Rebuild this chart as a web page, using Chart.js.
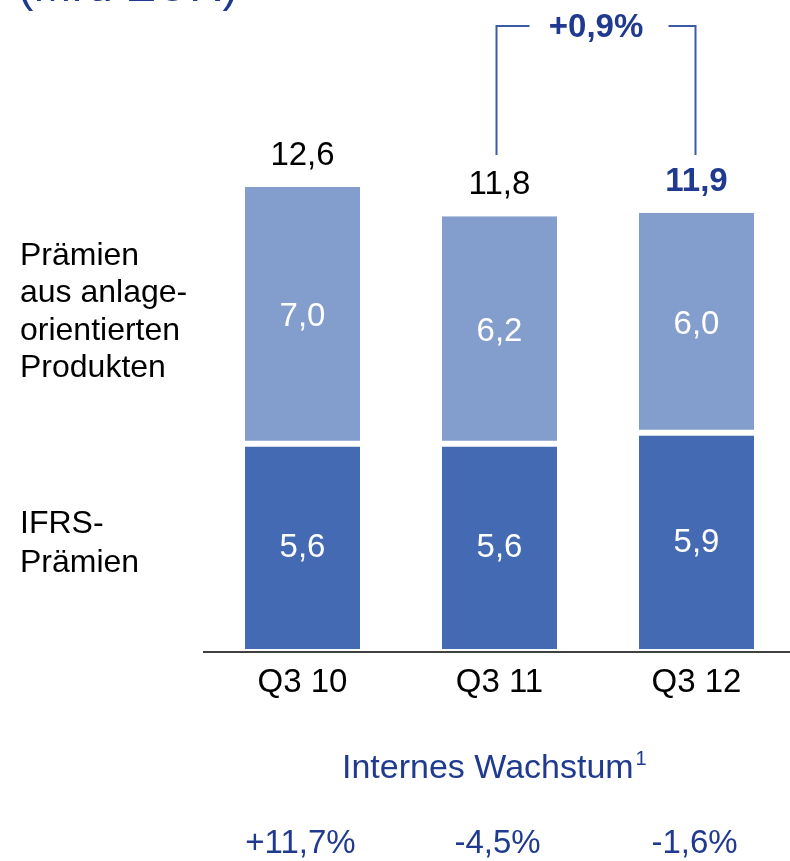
<!DOCTYPE html>
<html>
<head>
<meta charset="utf-8">
<script src="https://cdn.jsdelivr.net/npm/chart.js@4/dist/chart.umd.min.js"></script>
<style>
html,body{margin:0;padding:0;background:#fff;overflow:hidden;width:790px;height:861px;}
#c{display:block;}
</style>
</head>
<body>
<canvas id="c" width="800" height="861" style="width:800px;height:861px"></canvas>
<script>
// ---- data ----
const categories = ["Q3 10", "Q3 11", "Q3 12"];
const ifrsPraemien = [5.6, 5.6, 5.9];
const anlagePraemien = [7.0, 6.2, 6.0];
const totals = [12.6, 11.8, 11.9];
const internesWachstum = ["+11,7%", "-4,5%", "-1,6%"];
const bracketLabel = "+0,9%";
const titleText = "(Mrd EUR)";
const labelAnlage = ["Prämien", "aus anlage-", "orientierten", "Produkten"];
const labelIfrs = ["IFRS-", "Prämien"];
const growthTitle = "Internes Wachstum";

const FONT = "'Liberation Sans', Arial, sans-serif";
const BLUE_TEXT = "#1F3A8E";
const DARK = "#436AB2";
const LIGHT = "#839ECD";
const fmt = v => v.toFixed(1).replace(".", ",");

const overlay = {
  id: "overlay",
  afterDatasetsDraw(chart) {
    const ctx = chart.ctx;
    const m0 = chart.getDatasetMeta(0).data;
    const m1 = chart.getDatasetMeta(1).data;
    ctx.save();
    // segment values
    ctx.textAlign = "center";
    ctx.textBaseline = "alphabetic";
    ctx.fillStyle = "#ffffff";
    ctx.font = "33px " + FONT;
    [[m0, ifrsPraemien], [m1, anlagePraemien]].forEach(([els, vals]) => {
      els.forEach((el, i) => {
        const cy = (el.y + el.base) / 2;
        ctx.fillText(fmt(vals[i]), el.x, cy + 11);
      });
    });
    // totals
    m1.forEach((el, i) => {
      const last = i === totals.length - 1;
      ctx.font = (last ? "bold " : "") + "33px " + FONT;
      ctx.fillStyle = last ? BLUE_TEXT : "#000000";
      ctx.fillText(fmt(totals[i]), el.x, el.y - 22);
    });
    // bracket between last two bars
    const xa = m1[1].x - 3, xb = m1[2].x - 1;
    ctx.strokeStyle = "#3B5CA3";
    ctx.lineWidth = 2;
    ctx.beginPath();
    ctx.moveTo(xa, 155); ctx.lineTo(xa, 26); ctx.lineTo(xa + 33, 26);
    ctx.moveTo(xb - 27, 26); ctx.lineTo(xb, 26); ctx.lineTo(xb, 155);
    ctx.stroke();
    ctx.font = "bold 33px " + FONT;
    ctx.fillStyle = BLUE_TEXT;
    ctx.fillText(bracketLabel, (xa + xb) / 2, 37);
    // axis line
    ctx.strokeStyle = "#404040";
    ctx.lineWidth = 2;
    ctx.beginPath();
    ctx.moveTo(203, 652); ctx.lineTo(790, 652);
    ctx.stroke();
    // left labels
    ctx.textAlign = "left";
    ctx.fillStyle = "#000000";
    ctx.font = "32px " + FONT;
    const bl1 = [265, 302, 340, 377];
    labelAnlage.forEach((t, i) => ctx.fillText(t, 20, bl1[i]));
    const bl2 = [533, 572];
    labelIfrs.forEach((t, i) => ctx.fillText(t, 20, bl2[i]));
    // title (clipped at top)
    ctx.fillStyle = BLUE_TEXT;
    ctx.font = "46px " + FONT;
    ctx.fillText(titleText, 18, 1);
    // internes wachstum
    ctx.font = "34px " + FONT;
    ctx.fillText(growthTitle, 342, 778);
    const w = ctx.measureText(growthTitle).width;
    ctx.font = "20px " + FONT;
    ctx.fillText("1", 342 + w + 2, 765);
    ctx.textAlign = "center";
    ctx.font = "33px " + FONT;
    m0.forEach((el, i) => ctx.fillText(internesWachstum[i], el.x - 2, 853));
    ctx.restore();
  }
};

new Chart(document.getElementById("c"), {
  type: "bar",
  data: {
    labels: categories,
    datasets: [
      {
        label: "IFRS-Prämien",
        data: ifrsPraemien,
        backgroundColor: DARK,
        borderColor: "#ffffff",
        borderWidth: { top: 3, bottom: 0, left: 0, right: 0 },
        borderSkipped: false,
        barPercentage: 0.584,
        categoryPercentage: 1
      },
      {
        label: "Prämien aus anlageorientierten Produkten",
        data: anlagePraemien,
        backgroundColor: LIGHT,
        borderColor: "#ffffff",
        borderWidth: { top: 0, bottom: 3, left: 0, right: 0 },
        borderSkipped: false,
        barPercentage: 0.584,
        categoryPercentage: 1
      }
    ]
  },
  options: {
    responsive: false,
    animation: false,
    events: [],
    layout: { padding: { left: 204, right: 5, top: 99, bottom: 0 } },
    plugins: { legend: { display: false }, tooltip: { enabled: false } },
    scales: {
      x: {
        stacked: true,
        grid: { display: false, drawTicks: false },
        border: { display: false },
        ticks: { color: "#000000", font: { family: FONT, size: 33 }, padding: 14, maxRotation: 0 },
        afterFit(scale) { scale.height = 212; }
      },
      y: {
        stacked: true,
        display: false,
        min: 0,
        max: 15
      }
    }
  },
  plugins: [overlay]
});
</script>
</body>
</html>
